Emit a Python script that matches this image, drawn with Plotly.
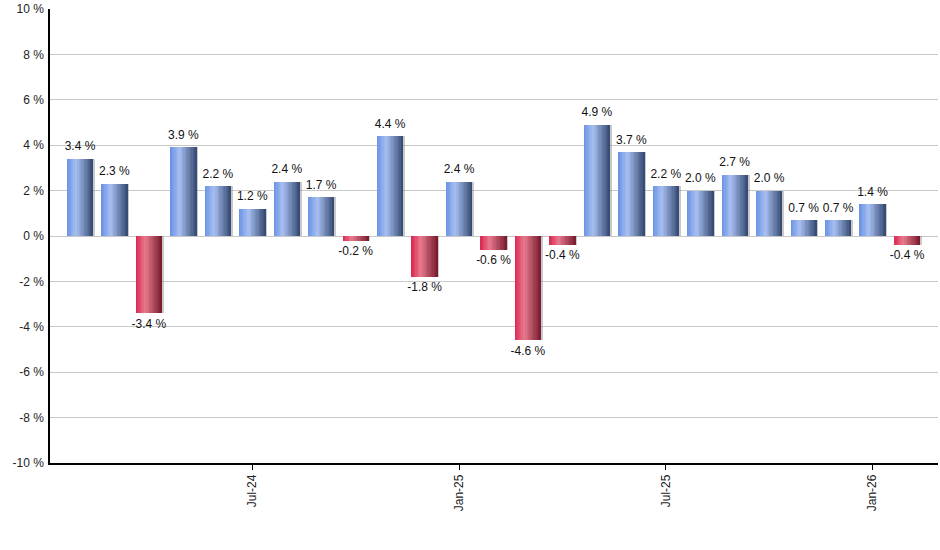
import plotly.graph_objects as go

months = ["Feb-24", "Mar-24", "Apr-24", "May-24", "Jun-24", "Jul-24", "Aug-24", "Sep-24",
          "Oct-24", "Nov-24", "Dec-24", "Jan-25", "Feb-25", "Mar-25", "Apr-25", "May-25",
          "Jun-25", "Jul-25", "Aug-25", "Sep-25", "Oct-25", "Nov-25", "Dec-25", "Jan-26", "Feb-26"]
values = [3.4, 2.3, -3.4, 3.9, 2.2, 1.2, 2.4, 1.7, -0.2, 4.4, -1.8, 2.4, -0.6, -4.6, -0.4,
          4.9, 3.7, 2.2, 2.0, 2.7, 2.0, 0.7, 0.7, 1.4, -0.4]
tick_labels = ["Jul-24", "Jan-25", "Jul-25", "Jan-26"]
y_ticks = [-10, -8, -6, -4, -2, 0, 2, 4, 6, 8, 10]

x = list(range(len(months)))
tick_pos = [months.index(t) for t in tick_labels]

# gradient stops (position, rgb)
blue_stops = [(0.0, (105, 145, 228)), (0.35, (168, 192, 242)), (1.0, (52, 72, 112))]
red_stops = [(0.0, (218, 38, 78)), (0.35, (232, 122, 142)), (1.0, (120, 26, 46))]


def interp(stops, t):
    for (p0, c0), (p1, c1) in zip(stops[:-1], stops[1:]):
        if p0 <= t <= p1:
            f = (t - p0) / (p1 - p0)
            return "rgb(%d,%d,%d)" % tuple(round(a + (b - a) * f) for a, b in zip(c0, c1))
    return "rgb(%d,%d,%d)" % stops[-1][1]


fig = go.Figure()
W = 0.76
N = 20
# shadow
fig.add_trace(go.Bar(x=x, y=values, width=W, offset=-W / 2 + 0.05,
                     marker=dict(color="rgba(120,120,120,0.4)", line=dict(width=0)),
                     hoverinfo="skip", showlegend=False))
for i in range(N):
    t = (i + 0.5) / N
    cols = [interp(blue_stops if v >= 0 else red_stops, t) for v in values]
    w = W / N * (1.8 if i < N - 1 else 1.0)
    fig.add_trace(go.Bar(x=x, y=values, width=w, offset=-W / 2 + i * W / N,
                         marker=dict(color=cols, line=dict(width=0)),
                         hoverinfo="skip", showlegend=False))

fig.add_trace(go.Scatter(
    x=x, y=values, mode="markers+text",
    marker=dict(size=7, color="rgba(0,0,0,0)"),
    text=["%.1f %%" % v for v in values],
    textposition=["top center" if v >= 0 else "bottom center" for v in values],
    textfont=dict(family="Liberation Sans, Arial", size=12, color="#111111"),
    hoverinfo="skip", showlegend=False, cliponaxis=False))

fig.update_layout(
    width=940, height=550,
    margin=dict(l=50, r=2, t=9, b=87),
    paper_bgcolor="white", plot_bgcolor="white",
    barmode="overlay", bargap=0,
    font=dict(family="Liberation Sans, Arial", size=12, color="#222222"),
    xaxis=dict(range=[-0.87, 24.9], tickvals=tick_pos, ticktext=tick_labels,
               tickangle=-90, ticks="outside", ticklen=5, tickcolor="black",
               showline=True, linecolor="black", linewidth=1.5, showgrid=False,
               zeroline=False, fixedrange=True, automargin=False),
    yaxis=dict(range=[-10, 10], tickvals=y_ticks,
               ticktext=["%d %%" % v for v in y_ticks],
               showline=True, linecolor="black", linewidth=1.5,
               gridcolor="#c8c8c8", gridwidth=1, zeroline=False, ticks="",
               ticklabelstandoff=2, fixedrange=True, automargin=False),
)

fig.write_html("out.html", config={"displayModeBar": False},
               post_script="document.body.style.margin='0';")
